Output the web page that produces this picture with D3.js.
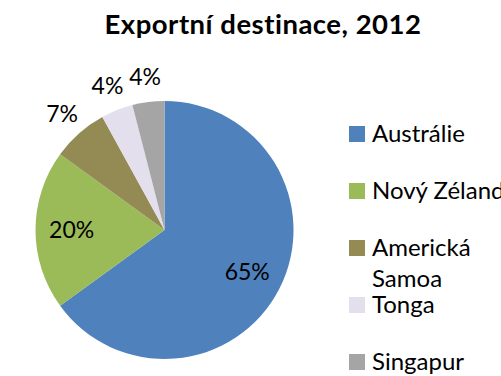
<!DOCTYPE html>
<html>
<head>
<meta charset="utf-8">
<script src="https://cdn.jsdelivr.net/npm/d3@7"></script>
<style>
  html, body { margin: 0; padding: 0; background: #fff; }
  svg { display: block; font-family: Lato, "Open Sans", sans-serif; }
</style>
</head>
<body>
<svg id="chart" width="501" height="376"></svg>
<script>
// Export destinations, share of total (%)
const categories = ["Austrálie", "Nový Zéland", "Americká Samoa", "Tonga", "Singapur"];
const shares = [65, 20, 7, 4, 4];
const colors = ["#4F81BD", "#9BBB59", "#948A54", "#E4DFEC", "#A5A5A5"];
const title = "Exportní destinace, 2012";

const svg = d3.select("#chart");
const cx = 164.5, cy = 230, r = 129;

svg.append("text")
  .attr("x", 263).attr("y", 34)
  .attr("text-anchor", "middle")
  .attr("font-weight", "bold")
  .attr("font-size", 27.5)
  .attr("letter-spacing", 0.5)
  .attr("fill", "#000")
  .text(title);

const pie = d3.pie().sort(null).value(d => d)(shares);
const arc = d3.arc().innerRadius(0).outerRadius(r);
const color = d3.scaleOrdinal().domain(categories).range(colors);
const total = d3.sum(shares);

const g = svg.append("g").attr("transform", `translate(${cx},${cy})`);

g.selectAll("path.slice")
  .data(pie)
  .join("path")
  .attr("class", "slice")
  .attr("d", arc)
  .attr("fill", (d, i) => color(categories[i]));

// Large slices are labelled inside, small ones just outside the rim
const inner = d3.arc().innerRadius(r * 0.72).outerRadius(r * 0.72);
const outer = d3.arc().innerRadius(r * 1.2).outerRadius(r * 1.2);
g.selectAll("text.pct")
  .data(pie)
  .join("text")
  .attr("class", "pct")
  .attr("transform", d => {
    const p = (d.value / total >= 0.1 ? inner : outer).centroid(d);
    return `translate(${p[0]},${p[1]})`;
  })
  .attr("text-anchor", "middle")
  .attr("dy", "0.36em")
  .attr("font-size", 23)
  .attr("fill", "#000")
  .text(d => d3.format(".0%")(d.value / total));

// Legend
const legend = svg.append("g");
const lx = 349, ly = 142, step = 57, sq = 16, lineH = 31;
const item = legend.selectAll("g.item")
  .data(categories)
  .join("g")
  .attr("class", "item")
  .attr("transform", (d, i) => `translate(${lx},${ly + i * step})`);

item.append("rect")
  .attr("x", 0).attr("y", -sq)
  .attr("width", sq).attr("height", sq)
  .attr("fill", d => color(d));

item.append("text")
  .attr("x", 23).attr("y", 0)
  .attr("font-size", 24)
  .attr("fill", "#000")
  .each(function(d) {
    const words = d === "Americká Samoa" ? d.split(" ") : [d];
    d3.select(this).selectAll("tspan")
      .data(words)
      .join("tspan")
      .attr("x", 23)
      .attr("y", (w, j) => j * lineH)
      .text(w => w);
  });
</script>
</body>
</html>
